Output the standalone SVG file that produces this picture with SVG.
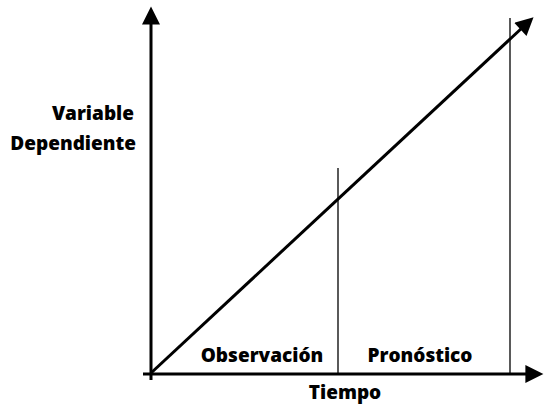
<svg xmlns="http://www.w3.org/2000/svg" width="545" height="406" viewBox="0 0 545 406">
<style>
.t{font-family:"Open Sans","Noto Sans","DejaVu Sans",sans-serif;font-weight:800;font-size:19px;fill:#000}
.ax{stroke:#000;stroke-width:3;fill:none}
.thin{stroke:#000;stroke-width:1.3;fill:none}
</style>
<defs>
<marker id="ah" viewBox="0 0 10 10" refX="2" refY="5" markerWidth="7" markerHeight="6" markerUnits="strokeWidth" orient="auto">
<path d="M0,0 L10,5 L0,10 Z" fill="#000"/>
</marker>
</defs>
<rect width="545" height="406" fill="#fff"/>
<g id="connectors">
<line class="thin" x1="338" y1="168" x2="338" y2="373"/>
<line class="thin" x1="510" y1="18" x2="510" y2="373"/>
<line class="ax" x1="151" y1="380" x2="151" y2="21" marker-end="url(#ah)"/>
<line class="ax" x1="143" y1="374" x2="529" y2="374" marker-end="url(#ah)"/>
<line class="ax" x1="151" y1="373" x2="523" y2="27" marker-end="url(#ah)"/>
</g>
<g id="ylabel">
<text class="t" x="134" y="120" text-anchor="end">Variable</text>
<text class="t" x="136" y="150" text-anchor="end">Dependiente</text>
</g>
<g id="obs"><text class="t" x="262" y="362" text-anchor="middle">Observación</text></g>
<g id="pron"><text class="t" x="420" y="362" text-anchor="middle">Pronóstico</text></g>
<g id="xlabel"><text class="t" x="345" y="399" text-anchor="middle">Tiempo</text></g>
</svg>
